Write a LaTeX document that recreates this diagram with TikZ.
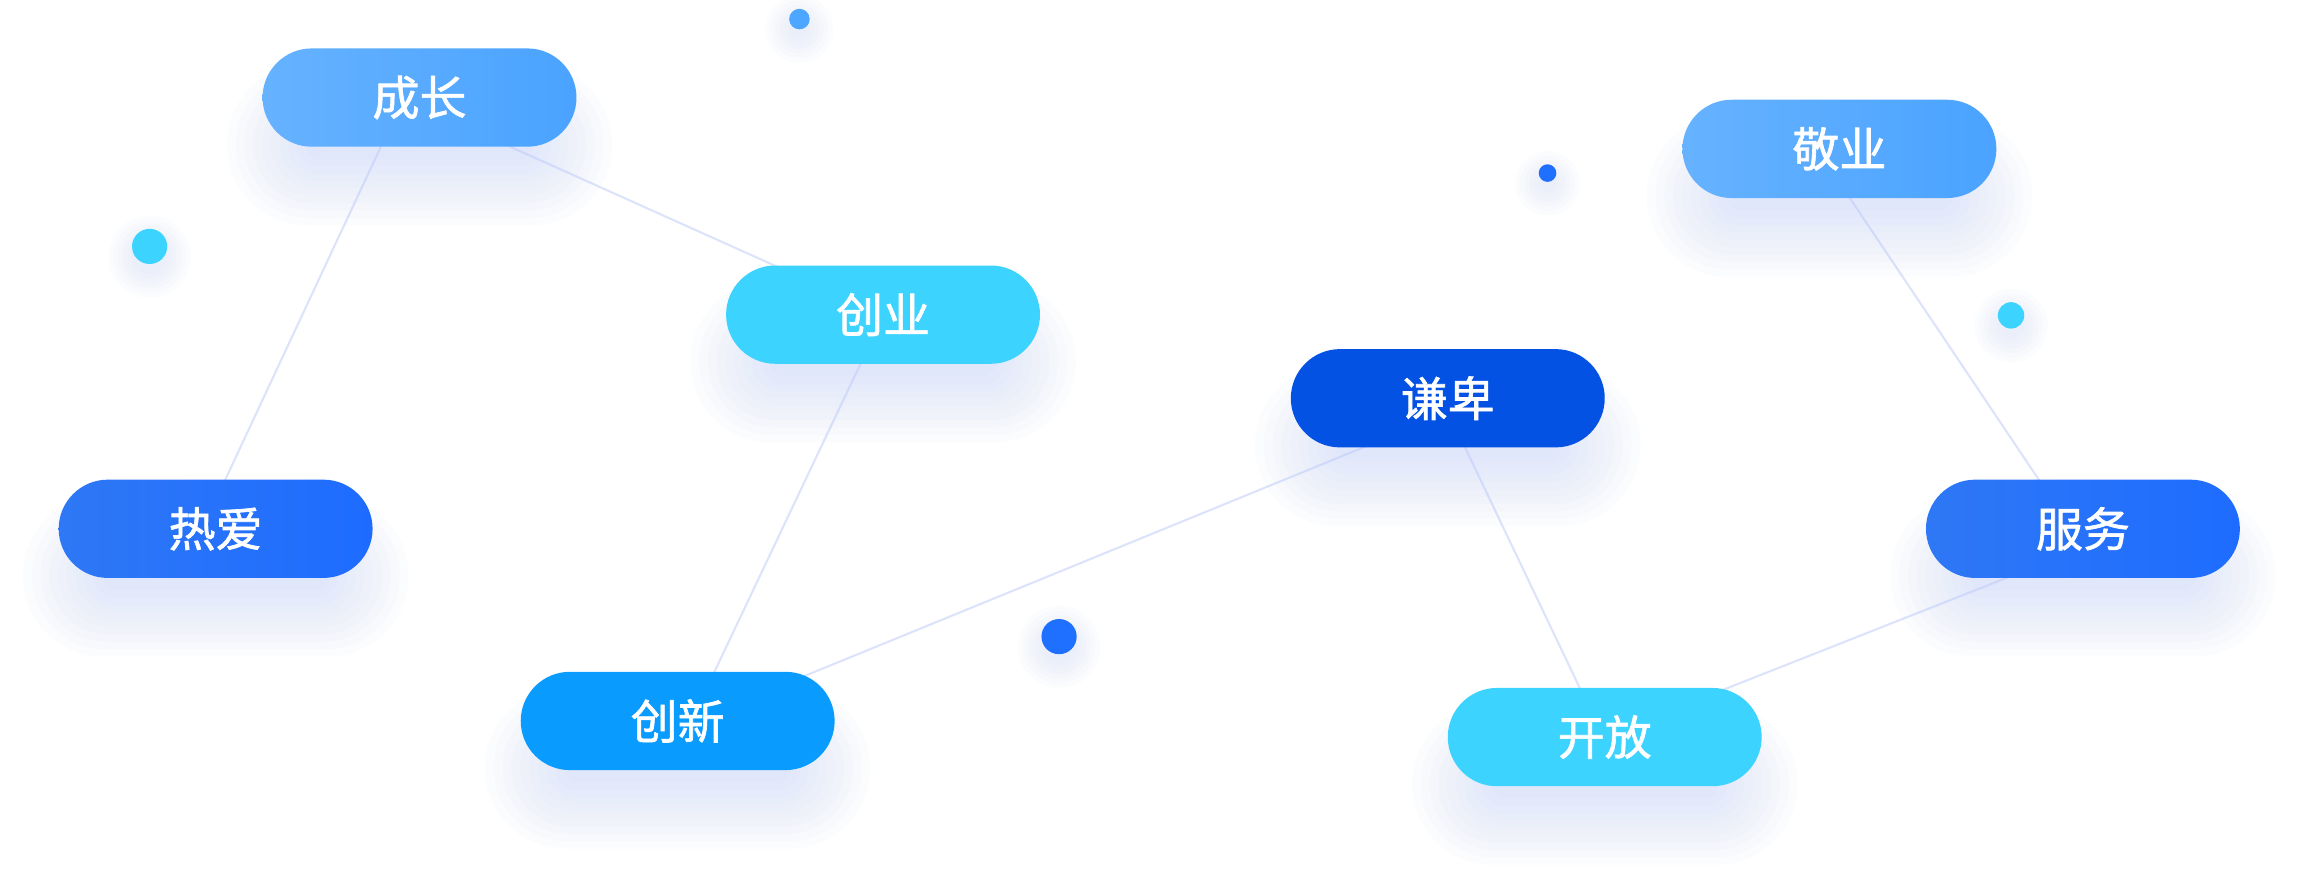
\documentclass[tikz,border=0pt]{standalone}
\usepackage{fontspec}
\newfontfamily\cjk{Noto Sans CJK SC}[FakeBold=1.4]
\usetikzlibrary{calc,backgrounds}
\definecolor{lightblueL}{HTML}{66B2FF}
\definecolor{lightblueR}{HTML}{4AA3FF}
\definecolor{cyanc}{HTML}{3DD3FF}
\definecolor{midblueL}{HTML}{2E78F5}
\definecolor{midblueR}{HTML}{1E6CFF}
\definecolor{skyc}{HTML}{0A9BFF}
\definecolor{deepc}{HTML}{0352E4}
\definecolor{linec}{HTML}{DCE3FA}
\definecolor{shadowc}{HTML}{BFCCFA}
\definecolor{dotblue}{HTML}{1F70FF}
\definecolor{dotlight}{HTML}{4DA6FF}
\tikzset{
  x=0.5pt, y=-0.5pt,
  pill/.style={rounded corners=16.75pt, minimum width=107pt, minimum height=33.5pt,
    inner sep=0pt, text=white, font=\cjk\fontsize{16}{16}\selectfont},
  pilllight/.style={pill, left color=lightblueL, right color=lightblueR},
  pillcyan/.style={pill, fill=cyanc},
  pillmid/.style={pill, left color=midblueL, right color=midblueR},
  pillsky/.style={pill, fill=skyc},
  pilldeep/.style={pill, fill=deepc},
  link/.style={draw=linec, line width=0.7pt},
  dotc/.style={circle, inner sep=0pt},
}
\newcommand\pillshadow[1]{%
  \foreach \k in {0,...,9}{
    \fill[shadowc, opacity=0.05, rounded corners={5pt+\k*2.5pt}]
      ($(#1.west)+({30-\k*6},{22-\k*5})$) rectangle
      ($(#1.east)+({-30+\k*6},{42+\k*5})$);
  }}
\newcommand\dotshadow[2]{%
  \foreach \k in {0,...,5}{
    \fill[shadowc, opacity=0.05] ($(#1)+(0,7)$) circle ({#2*0.5pt+\k*1.6pt});
  }}
\begin{document}
\begin{tikzpicture}
\useasboundingbox (0,0) rectangle (1568,605);
% pills
\node[pilllight] (cz) at (286,66.5) {成长};
\node[pillcyan] (cy) at (602,214.5) {创业};
\node[pillmid] (ra) at (147,360.5) {热爱};
\node[pillsky] (cx) at (462,491.5) {创新};
\node[pilldeep] (qb) at (987,271.5) {谦卑};
\node[pillcyan] (kf) at (1094,502.5) {开放};
\node[pilllight] (jy) at (1254,101.5) {敬业};
\node[pillmid] (fw) at (1420,360.5) {服务};
% dots
\node[dotc, fill=dotlight, minimum size=7pt] (dot1) at (545,13) {};
\node[dotc, fill=cyanc, minimum size=12pt] (dot2) at (102,168) {};
\node[dotc, fill=dotblue, minimum size=6pt] (dot3) at (1055,118) {};
\node[dotc, fill=cyanc, minimum size=9pt] (dot4) at (1371,215) {};
\node[dotc, fill=dotblue, minimum size=12pt] (dot5) at (722,434) {};
\begin{scope}[on background layer]
\fill[white] (0,0) rectangle (1568,605);
% connectors
\draw[link] ($(cz.center)+(-17,13.5)$) -- ($(ra.center)+(0.5,-20.5)$);
\draw[link] ($(cz.center)+(44,25.5)$) -- ($(cy.center)+(-52,-23.6)$);
\draw[link] ($(cy.center)+(-9.2,20.5)$) -- ($(cx.center)+(17,-16.5)$);
\draw[link] ($(qb.center)+(-27,21)$) -- ($(cx.center)+(58,-19)$);
\draw[link] ($(qb.center)+(7,23.5)$) -- ($(kf.center)+(-9.4,-17.5)$);
\draw[link] ($(jy.center)+(-3,18.5)$) -- ($(fw.center)+(-18,-15.5)$);
\draw[link] ($(fw.center)+(-20,20.8)$) -- ($(kf.center)+(56,-22.5)$);
% shadows
\foreach \n in {cz,cy,ra,cx,qb,kf,jy,fw}{ \pillshadow{\n} }
\dotshadow{dot1}{7}\dotshadow{dot2}{12}\dotshadow{dot3}{6}\dotshadow{dot4}{9}\dotshadow{dot5}{12}
\end{scope}
\end{tikzpicture}
\end{document}
